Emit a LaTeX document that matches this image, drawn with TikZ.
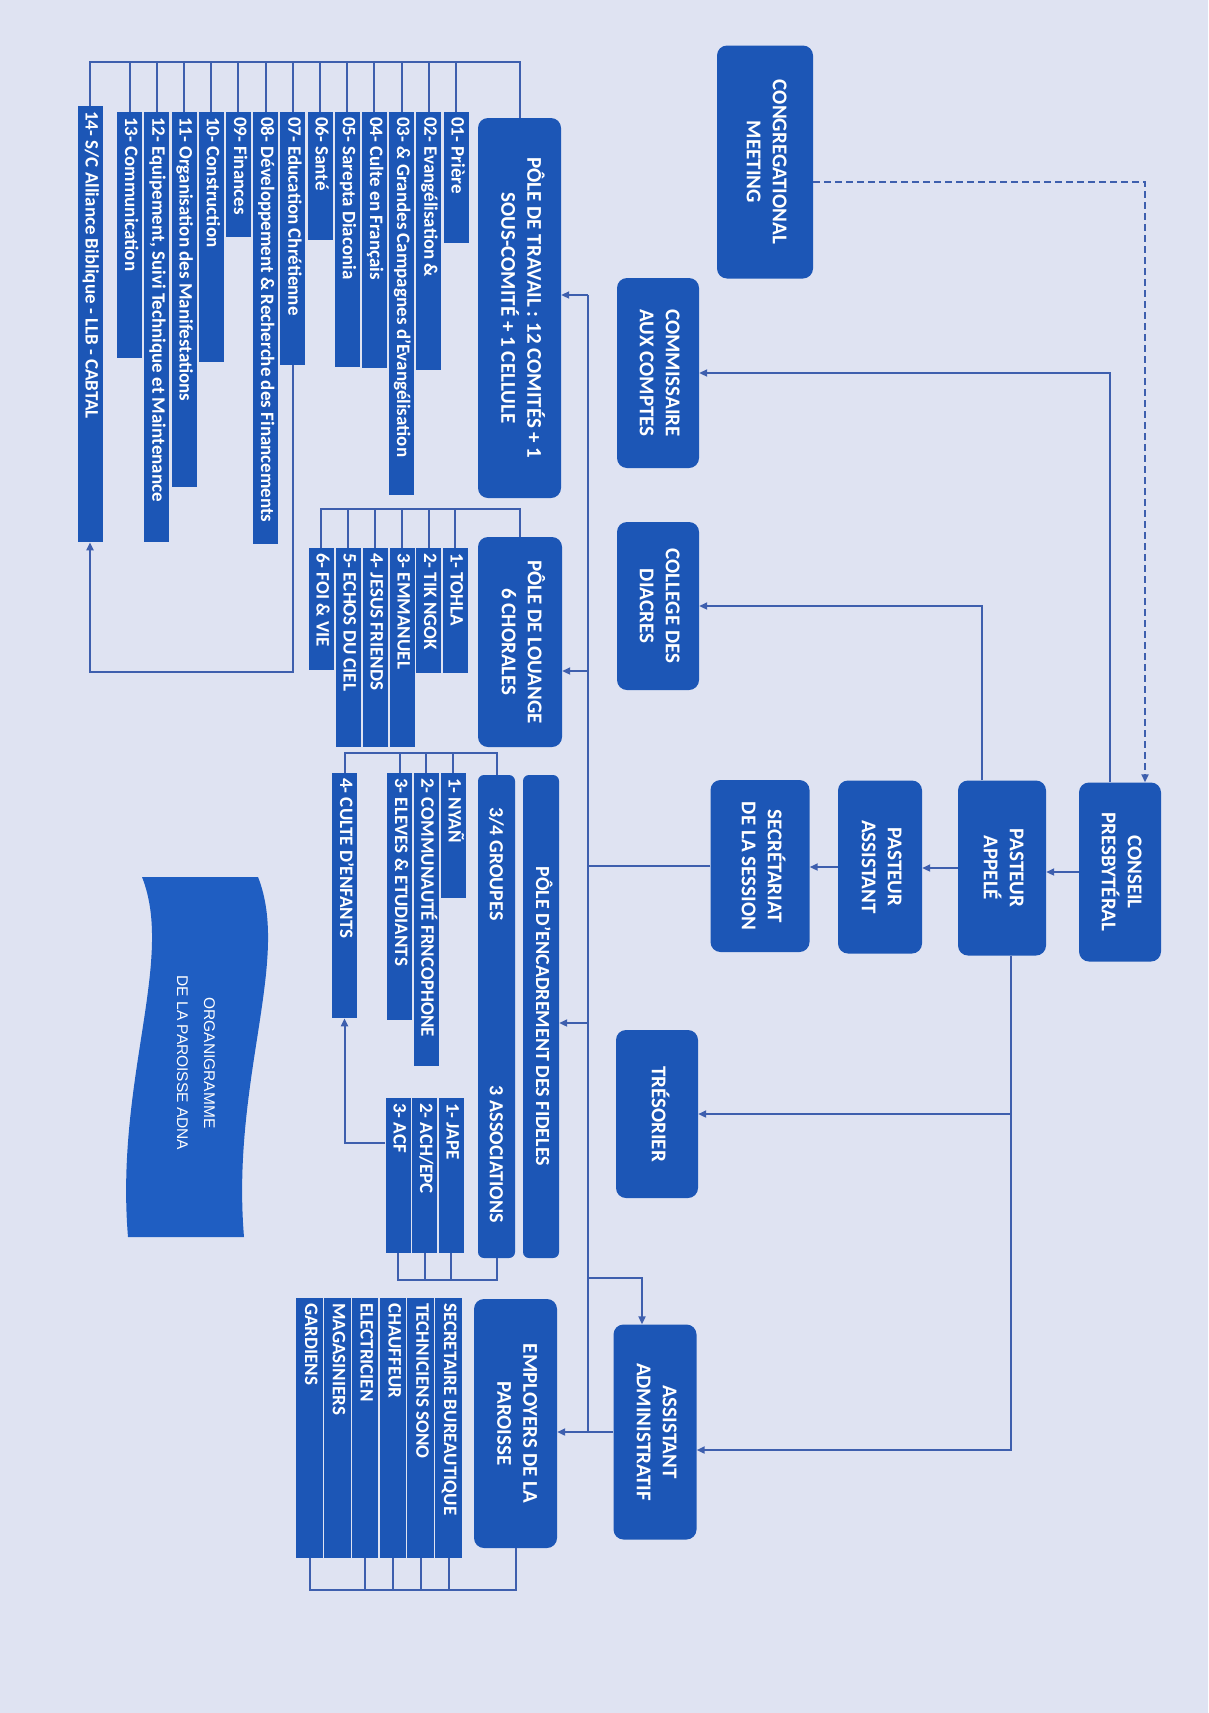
\documentclass[tikz,border=0pt]{standalone}
\usepackage{fontspec}
\usepackage{graphicx}
\setmainfont{Carlito}
\newfontfamily\bannerfont{Liberation Sans}
\usetikzlibrary{arrows.meta}

\definecolor{boxBlue}{HTML}{1C56B6}
\definecolor{lineBlue}{HTML}{3E5FAE}
\definecolor{paperBg}{HTML}{DFE3F2}
\definecolor{flagBlue}{HTML}{1F5EC2}

% rotated labels (read from top to bottom)
\newcommand{\rottext}[1]{\rotatebox{-90}{\begin{tabular}{@{}c@{}}#1\end{tabular}}}
\newcommand{\rotbar}[2]{\rotatebox{-90}{\makebox[#1][l]{\hspace{5pt}\strut #2}}}

\begin{document}
\begin{tikzpicture}[
        x=1pt, y=-1pt,
        bigBox/.style={fill=boxBlue, text=white, rounded corners=10pt, inner sep=0pt, font=\bfseries\fontsize{21}{26}\selectfont},
        thinBar/.style={fill=boxBlue, text=white, rounded corners=6pt, inner sep=0pt, font=\bfseries\fontsize{20}{24}\selectfont},
        listBar/.style={fill=boxBlue, text=white, inner sep=0pt, anchor=north, minimum width=25pt, font=\bfseries\fontsize{19}{22}\selectfont},
        link/.style={draw=lineBlue, line width=2pt},
        arrowLink/.style={link, -{Triangle[length=8pt,width=7pt]}},
        dashLink/.style={link, dash pattern=on 7pt off 4pt, -{Triangle[length=8pt,width=7pt]}}
    ]
        % Page
        \fill[paperBg] (0,0) rectangle (1208,1713);
        \useasboundingbox (0,0) rectangle (1208,1713);

        % Governing boxes
        \node[bigBox, minimum width=96pt, minimum height=233pt] (congr) at (765,162) {\rottext{CONGREGATIONAL\\MEETING}};
        \node[bigBox, minimum width=82pt, minimum height=190pt] (commis) at (658,373) {\rottext{COMMISSAIRE\\AUX COMPTES}};
        \node[bigBox, minimum width=82pt, minimum height=168pt] (college) at (658,606) {\rottext{COLLEGE DES\\DIACRES}};
        \node[bigBox, minimum width=82pt, minimum height=179pt] (conseil) at (1120,872) {\rottext{CONSEIL\\PRESBYTÉRAL}};
        \node[bigBox, minimum width=88pt, minimum height=175pt] (pappele) at (1002,868) {\rottext{PASTEUR\\APPELÉ}};
        \node[bigBox, minimum width=84pt, minimum height=173pt] (passist) at (880,867) {\rottext{PASTEUR\\ASSISTANT}};
        \node[bigBox, minimum width=99pt, minimum height=172pt] (secret) at (760,866) {\rottext{SECRÉTARIAT\\DE LA SESSION}};
        \node[bigBox, minimum width=82pt, minimum height=168pt] (treso) at (657,1114) {\rottext{TRÉSORIER}};
        \node[bigBox, minimum width=83pt, minimum height=215pt] (assadm) at (655,1432) {\rottext{ASSISTANT\\ADMINISTRATIF}};

        % Poles
        \node[bigBox, minimum width=83pt, minimum height=380pt] (travail) at (519.5,308) {\rottext{PÔLE DE TRAVAIL : 12 COMITÉS + 1\\SOUS-COMITÉ + 1 CELLULE}};
        \node[bigBox, minimum width=84pt, minimum height=210pt] (louange) at (520,642) {\rottext{PÔLE DE LOUANGE\\6 CHORALES}};
        \node[thinBar, minimum width=36pt, minimum height=483pt] (encad) at (541,1016.5) {\rottext{PÔLE D'ENCADREMENT DES FIDELES}};
        \node[thinBar, minimum width=37pt, minimum height=483pt] (groupes) at (496.5,1016.5) {\rotatebox{-90}{\makebox[483pt]{\hspace{32pt}3/4 GROUPES\hfill 3 ASSOCIATIONS\hspace{35pt}}}};
        \node[bigBox, minimum width=83pt, minimum height=249pt] (employ) at (515.5,1423.5) {\rottext{EMPLOYERS DE LA\\PAROISSE}};

        % Committees
        \node[listBar] (c01) at (456,112) {\rotbar{131pt}{01- Prière}};
        \node[listBar] (c02) at (428.8,112) {\rotbar{258pt}{02- Evangélisation \&}};
        \node[listBar] (c03) at (401.6,112) {\rotbar{383pt}{03- {\itshape\&} Grandes Campagnes d'Evangélisation}};
        \node[listBar] (c04) at (374.4,112) {\rotbar{256pt}{04- Culte en Français}};
        \node[listBar] (c05) at (347.2,112) {\rotbar{255pt}{05- Sarepta Diaconia}};
        \node[listBar] (c06) at (320,112) {\rotbar{128pt}{06- Santé}};
        \node[listBar] (c07) at (292.8,112) {\rotbar{253pt}{07- Education Chrétienne}};
        \node[listBar] (c08) at (265.6,112) {\rotbar{432pt}{08- Développement \& Recherche des Financements}};
        \node[listBar] (c09) at (238.4,112) {\rotbar{125pt}{09- Finances}};
        \node[listBar] (c10) at (211.2,112) {\rotbar{250pt}{10- Construction}};
        \node[listBar] (c11) at (184,112) {\rotbar{375pt}{11- Organisation des Manifestations}};
        \node[listBar] (c12) at (156.8,112) {\rotbar{430pt}{12- Equipement, Suivi Technique et Maintenance}};
        \node[listBar] (c13) at (129.6,112) {\rotbar{246pt}{13- Communication}};
        \node[listBar] (c14) at (90,106) {\rotbar{436pt}{14- S/C Alliance Biblique - LLB - CABTAL}};

        % Choirs
        \node[listBar] (l1) at (455,548) {\rotbar{125pt}{1- TOHLA}};
        \node[listBar] (l2) at (428.5,548) {\rotbar{125pt}{2- TIK NGOK}};
        \node[listBar] (l3) at (402,548) {\rotbar{199pt}{3- EMMANUEL}};
        \node[listBar] (l4) at (375,548) {\rotbar{199pt}{4- JESUS FRIENDS}};
        \node[listBar] (l5) at (348,548) {\rotbar{199pt}{5- ECHOS DU CIEL}};
        \node[listBar] (l6) at (321,548) {\rotbar{122pt}{6- FOI \& VIE}};

        % Groups and associations
        \node[listBar] (g1) at (453,773) {\rotbar{125pt}{1- NYAÑ}};
        \node[listBar] (g2) at (426,773) {\rotbar{293pt}{2- COMMUNAUTÉ FRNCOPHONE}};
        \node[listBar] (g3) at (399.5,773) {\rotbar{247pt}{3- ELEVES \& ETUDIANTS}};
        \node[listBar] (g4) at (344.5,773) {\rotbar{245pt}{4- CULTE D'ENFANTS}};
        \node[listBar] (a1) at (451,1098) {\rotbar{155pt}{1- JAPE}};
        \node[listBar] (a2) at (424.5,1098) {\rotbar{155pt}{2- ACH/EPC}};
        \node[listBar] (a3) at (398,1098) {\rotbar{155pt}{3- ACF}};

        % Employees
        \node[listBar, minimum width=26.5pt] (e1) at (448.5,1298) {\rotbar{260pt}{SECRETAIRE BUREAUTIQUE}};
        \node[listBar, minimum width=26.5pt] (e2) at (420.7,1298) {\rotbar{260pt}{TECHNICIENS SONO}};
        \node[listBar, minimum width=26.5pt] (e3) at (392.9,1298) {\rotbar{260pt}{CHAUFFEUR}};
        \node[listBar, minimum width=26.5pt] (e4) at (365.1,1298) {\rotbar{260pt}{ELECTRICIEN}};
        \node[listBar, minimum width=26.5pt] (e5) at (337.3,1298) {\rotbar{260pt}{MAGASINIERS}};
        \node[listBar, minimum width=26.5pt] (e6) at (309.5,1298) {\rotbar{260pt}{GARDIENS}};

        % Title banner
        \fill[flagBlue] (142,877) -- (258,877) .. controls (291,960) and (231,1080) .. (244,1237)
            -- (128,1237) .. controls (115,1080) and (175,960) .. (142,877) -- cycle;
        \node[text=white, font=\bannerfont\fontsize{15.5}{27}\selectfont] (banner) at (196,1063) {\rottext{ORGANIGRAMME\\DE LA PAROISSE ADNA}};

        % Turning points
        \coordinate (comTop) at (0,62);
        \coordinate (louTop) at (0,509);
        \coordinate (grpTop) at (0,753);
        \coordinate (assBot) at (0,1280);
        \coordinate (empBot) at (0,1590);
        \coordinate (eduTurn) at (0,672);
        \coordinate (acfTurn) at (0,1143);
        \coordinate (busTop) at (588,295);
        \coordinate (busLou) at (588,671);
        \coordinate (busEnc) at (588,1023);
        \coordinate (busAdm) at (588,1278);
        \coordinate (busBot) at (assadm.west -| busTop);
        \coordinate (apDown) at ([xshift=9pt]pappele.south);

        % Edges between governing boxes
        \draw[dashLink] ([yshift=-20pt]congr.east) -| ([xshift=25pt]conseil.north);
        \draw[arrowLink] ([xshift=-10pt]conseil.north) |- (commis.east);
        \draw[arrowLink] ([xshift=-20pt]pappele.north) |- (college.east);
        \draw[arrowLink] (conseil.west) -- (conseil.west -| pappele.east);
        \draw[arrowLink] (pappele.west) -- (pappele.west -| passist.east);
        \draw[arrowLink] (passist.west) -- (passist.west -| secret.east);
        \draw[arrowLink] (apDown) |- ([yshift=-18pt]assadm.east);
        \draw[arrowLink] (apDown |- treso.east) -- (treso.east);

        % Bus to the poles
        \draw[link] (secret.west) -- (secret.west -| busTop);
        \draw[link] (busTop) -- (busBot);
        \draw[arrowLink] (busTop) -- (busTop -| travail.east);
        \draw[arrowLink] (busLou) -- (busLou -| louange.east);
        \draw[arrowLink] (busEnc) -- (busEnc -| encad.east);
        \draw[arrowLink] (busAdm) -| ([xshift=-13pt]assadm.north);
        \draw[arrowLink] (assadm.west) -- (assadm.west -| employ.east);

        % Brackets
        \draw[link] (travail.north) -- (travail.north |- comTop) -- (c14.north |- comTop) -- (c14.north)
            (c01.north) -- (c01.north |- comTop) (c02.north) -- (c02.north |- comTop)
            (c03.north) -- (c03.north |- comTop) (c04.north) -- (c04.north |- comTop)
            (c05.north) -- (c05.north |- comTop) (c06.north) -- (c06.north |- comTop)
            (c07.north) -- (c07.north |- comTop) (c08.north) -- (c08.north |- comTop)
            (c09.north) -- (c09.north |- comTop) (c10.north) -- (c10.north |- comTop)
            (c11.north) -- (c11.north |- comTop) (c12.north) -- (c12.north |- comTop)
            (c13.north) -- (c13.north |- comTop);
        \draw[link] (louange.north) -- (louange.north |- louTop) -- (l6.north |- louTop) -- (l6.north)
            (l1.north) -- (l1.north |- louTop) (l2.north) -- (l2.north |- louTop)
            (l3.north) -- (l3.north |- louTop) (l4.north) -- (l4.north |- louTop)
            (l5.north) -- (l5.north |- louTop);
        \draw[link] (groupes.north) -- (groupes.north |- grpTop) -- (g4.north |- grpTop) -- (g4.north)
            (g1.north) -- (g1.north |- grpTop) (g2.north) -- (g2.north |- grpTop)
            (g3.north) -- (g3.north |- grpTop);
        \draw[link] (groupes.south) -- (groupes.south |- assBot) -- (a3.south |- assBot) -- (a3.south)
            (a1.south) -- (a1.south |- assBot) (a2.south) -- (a2.south |- assBot);
        \draw[link] (employ.south) -- (employ.south |- empBot) -- (e6.south |- empBot) -- (e6.south)
            (e1.south) -- (e1.south |- empBot) (e2.south) -- (e2.south |- empBot)
            (e3.south) -- (e3.south |- empBot) (e4.south) -- (e4.south |- empBot);

        % Sub-links
        \draw[arrowLink] (c07.south) -- (c07.south |- eduTurn) -| (c14.south);
        \draw[arrowLink] (a3.west |- acfTurn) -| (g4.south);
    \end{tikzpicture}
\end{document}
